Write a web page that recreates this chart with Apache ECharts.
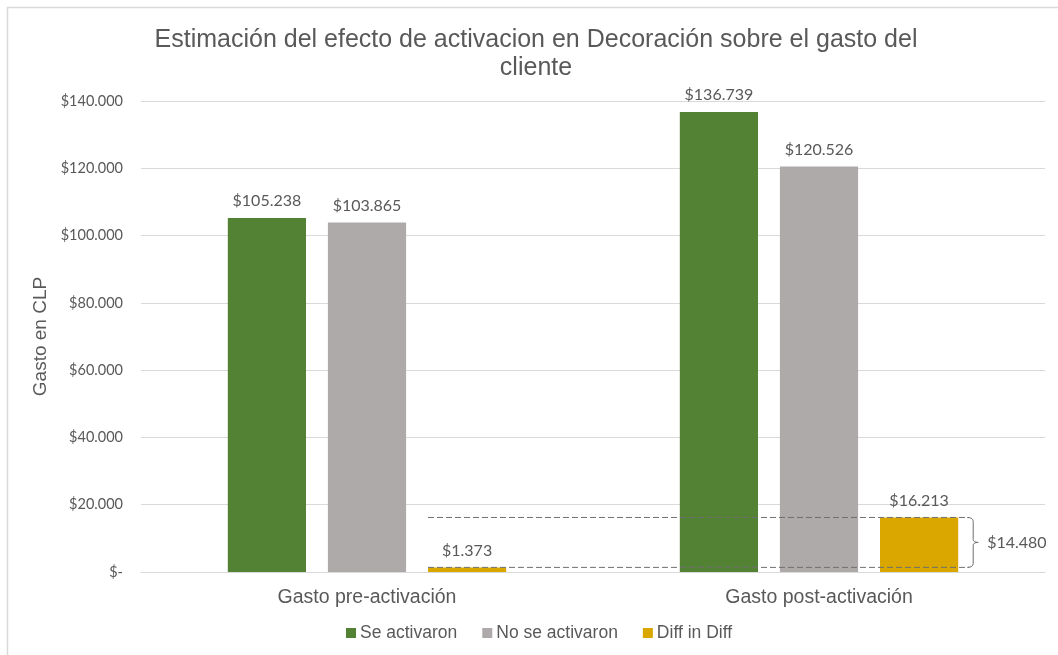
<!DOCTYPE html>
<html>
<head>
<meta charset="utf-8">
<script src="https://cdn.jsdelivr.net/npm/echarts@6/dist/echarts.min.js"></script>
<style>
  html, body { margin: 0; padding: 0; background: #ffffff; }
  #chart { width: 1058px; height: 655px; }
</style>
</head>
<body>
<div id="chart"></div>
<script>
// Gasto promedio por grupo, antes y después de la activación
const chartTitle = 'Estimación del efecto de activacion en Decoración sobre el gasto del\ncliente';
const categories = ['Gasto pre-activación', 'Gasto post-activación'];
const seActivaron = [105238, 136739];
const noSeActivaron = [103865, 120526];
const diffInDiff = [1373, 16213];
const diffLabelValue = 14480;
const yTicks = { min: 0, max: 140000, interval: 20000 };

const COLORS = { green: '#548235', gray: '#AEAAAA', gold: '#DAA600', text: '#595959', grid: '#D9D9D9' };
const BAR_WIDTH = 0.173;   // fraction of category width
const BAR_GAP = 0.28;      // fraction of bar width

function money(v) {
  if (v === 0) return '$-';
  return '$' + String(Math.round(v)).replace(/\B(?=(\d{3})+(?!\d))/g, '.');
}

const chart = echarts.init(document.getElementById('chart'));

const labelStyle = {
  show: true, position: 'top', distance: 9,
  color: COLORS.text, fontFamily: 'Lato', fontSize: 16,
  formatter: p => money(p.value)
};

function barSeries(name, data, color) {
  return {
    name, type: 'bar', data,
    barWidth: (BAR_WIDTH * 100) + '%', barGap: (BAR_GAP * 100) + '%',
    itemStyle: { color },
    label: labelStyle
  };
}

// Dashed guides between the two Diff-in-Diff bars, with a brace and its label
function renderBracket(params, api) {
  const catW = api.size([1, 0])[0];
  const bw = catW * BAR_WIDTH;
  const gap = bw * BAR_GAP;
  const total = 3 * bw + 2 * gap;
  const c0 = api.coord([0, 0])[0];
  const c1 = api.coord([1, 0])[0];
  const xStart = c0 - total / 2 + 2 * (bw + gap);
  const xEnd = c1 + total / 2 + 11;
  const yHi = api.coord([0, diffInDiff[1]])[1];
  const yLo = api.coord([0, diffInDiff[0]])[1];
  const yMid = (yHi + yLo) / 2;
  const dash = { stroke: '#6F6F6F', lineWidth: 1, lineDash: [6, 3] };
  const bx = xEnd + 4;
  const path =
    'M' + (xEnd - 2) + ',' + yHi +
    ' Q' + bx + ',' + yHi + ' ' + bx + ',' + (yHi + 4) +
    ' L' + bx + ',' + (yMid - 3) +
    ' Q' + bx + ',' + yMid + ' ' + (bx + 5) + ',' + yMid +
    ' Q' + bx + ',' + yMid + ' ' + bx + ',' + (yMid + 3) +
    ' L' + bx + ',' + (yLo - 4) +
    ' Q' + bx + ',' + yLo + ' ' + (xEnd - 2) + ',' + yLo;
  return {
    type: 'group',
    children: [
      { type: 'line', shape: { x1: xStart, y1: yHi, x2: xEnd, y2: yHi }, style: dash },
      { type: 'line', shape: { x1: xStart, y1: yLo, x2: xEnd, y2: yLo }, style: dash },
      { type: 'path', shape: { pathData: path }, style: { stroke: '#6F6F6F', lineWidth: 1, fill: null } },
      { type: 'text', x: bx + 14, y: yMid,
        style: { text: money(diffLabelValue), fill: COLORS.text, font: '16px Lato', textAlign: 'left', textVerticalAlign: 'middle' } }
    ]
  };
}

chart.setOption({
  backgroundColor: '#ffffff',
  animation: false,
  graphic: [
    {
      type: 'rect', silent: true,
      shape: { x: 7.5, y: 7.5, width: 1200, height: 800 },
      style: { fill: null, stroke: COLORS.grid, lineWidth: 1.5 }
    },
    {
      type: 'text', silent: true, x: 536, y: 26,
      style: {
        text: chartTitle, fill: COLORS.text,
        fontFamily: 'Liberation Sans', fontSize: 25, lineHeight: 28,
        align: 'center', verticalAlign: 'top'
      }
    }
  ],
  legend: {
    bottom: 8, left: 341, itemWidth: 10, itemHeight: 10, itemGap: 25,
    icon: 'rect',
    data: ['Se activaron', 'No se activaron', 'Diff in Diff'],
    textStyle: { fontFamily: 'Liberation Sans', fontSize: 17.5, color: COLORS.text, padding: [0, 0, 0, -1] }
  },
  grid: { left: 141, right: 13, top: 101, bottom: 83, containLabel: false },
  xAxis: {
    type: 'category', data: categories,
    axisTick: { show: false },
    axisLine: { lineStyle: { color: COLORS.grid, width: 1 } },
    axisLabel: { color: COLORS.text, fontFamily: 'Liberation Sans', fontSize: 19.5, margin: 16 }
  },
  yAxis: {
    type: 'value', min: yTicks.min, max: yTicks.max, interval: yTicks.interval,
    name: 'Gasto en CLP', nameLocation: 'middle', nameGap: 88, nameRotate: 90,
    nameTextStyle: { color: COLORS.text, fontFamily: 'Liberation Sans', fontSize: 19 },
    axisLine: { show: false }, axisTick: { show: false },
    splitLine: { lineStyle: { color: COLORS.grid, width: 1 } },
    axisLabel: { color: COLORS.text, fontFamily: 'Lato', fontSize: 14.5, margin: 18, formatter: money }
  },
  series: [
    barSeries('Se activaron', seActivaron, COLORS.green),
    barSeries('No se activaron', noSeActivaron, COLORS.gray),
    barSeries('Diff in Diff', diffInDiff, COLORS.gold),
    { type: 'custom', name: 'bracket', data: [[0]], renderItem: renderBracket, silent: true, clip: false, z: 5 }
  ]
});
</script>
</body>
</html>
